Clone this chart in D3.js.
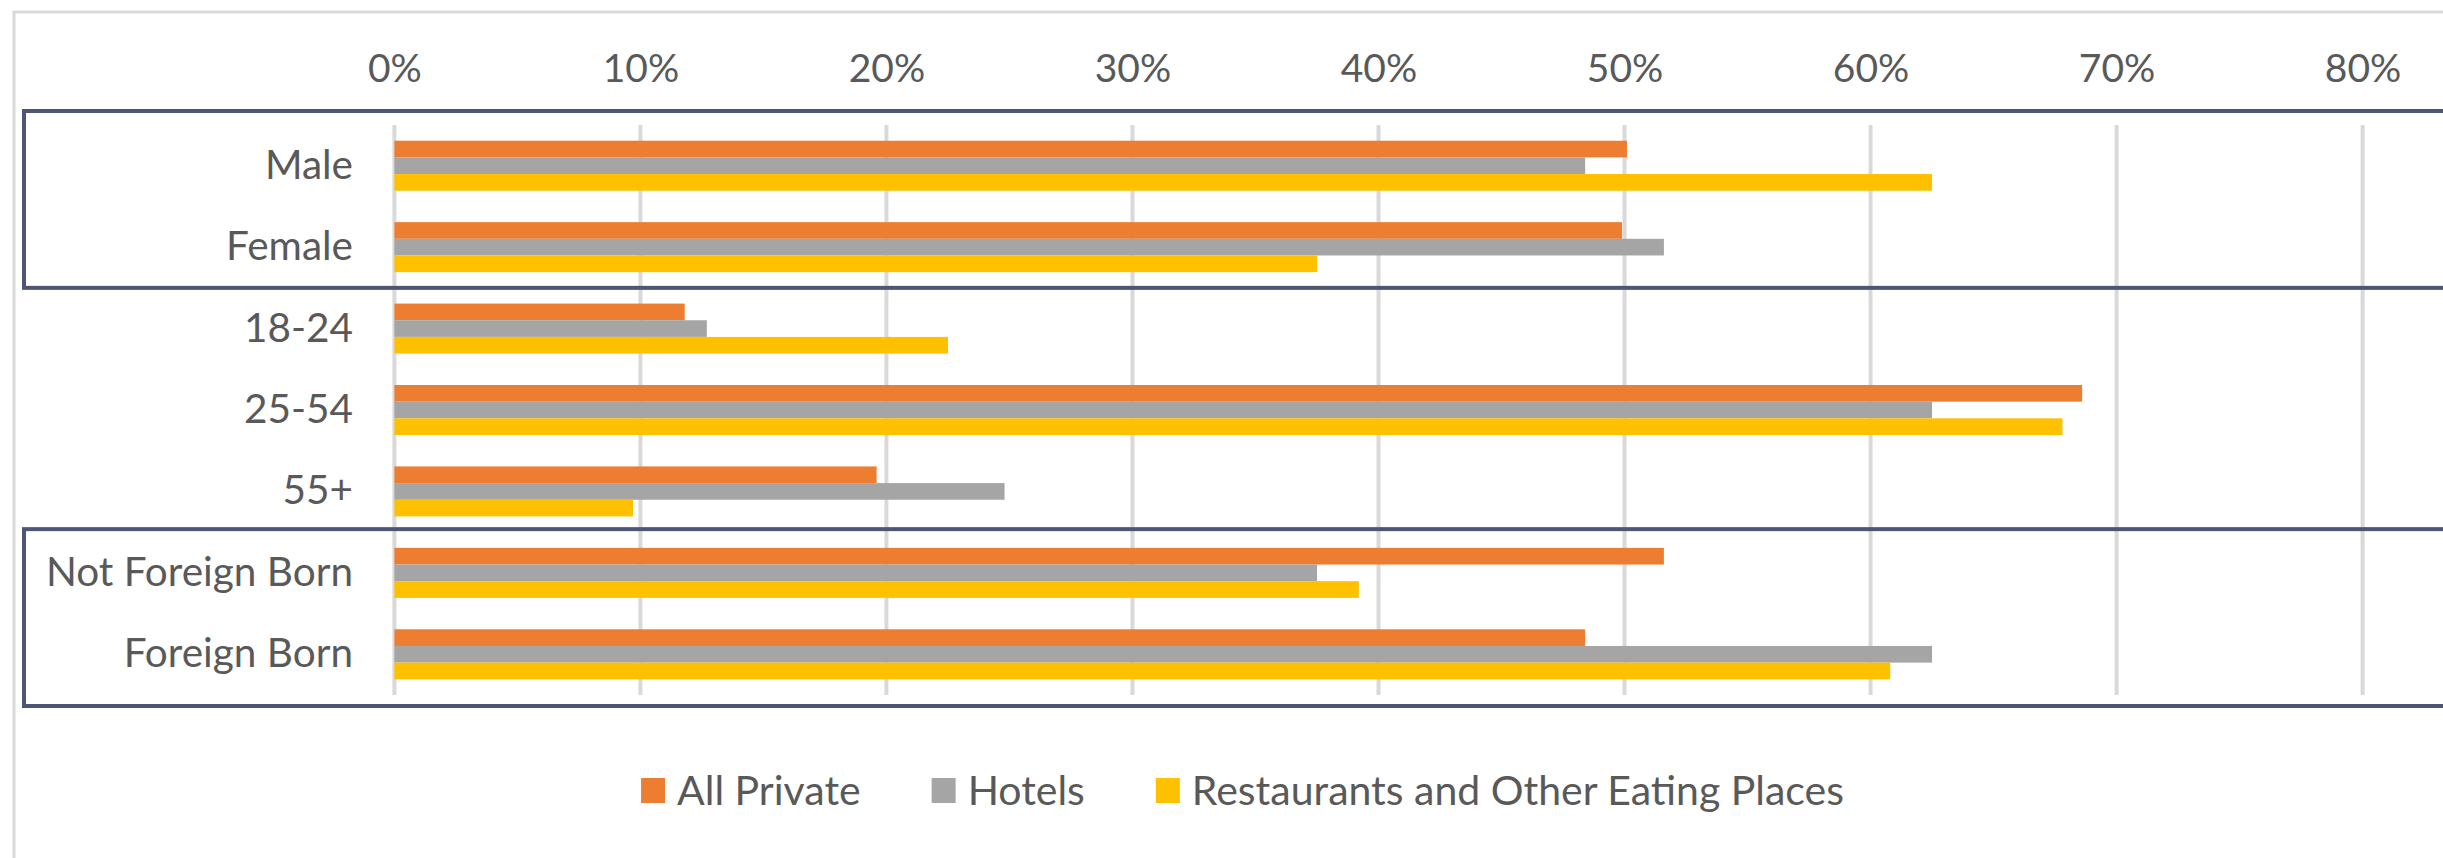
<!DOCTYPE html>
<html>
<head>
<meta charset="utf-8">
<script src="https://cdn.jsdelivr.net/npm/d3@7"></script>
<style>
  html, body { margin: 0; padding: 0; background: #fff; }
  svg { display: block; }
  text { font-family: Lato, "Open Sans", sans-serif; fill: #595959; }
</style>
</head>
<body>
<script>
// data
const categories = ['Male', 'Female', '18-24', '25-54', '55+', 'Not Foreign Born', 'Foreign Born'];
const seriesNames = ['All Private', 'Hotels', 'Restaurants and Other Eating Places'];
const allPrivate = [50.1, 49.9, 11.8, 68.6, 19.6, 51.6, 48.4];
const hotels = [48.4, 51.6, 12.7, 62.5, 24.8, 37.5, 62.5];
const restaurants = [62.5, 37.5, 22.5, 67.8, 9.7, 39.2, 60.8];
const tickValues = [0, 10, 20, 30, 40, 50, 60, 70, 80];
const boxedGroups = [['Male', 'Female'], ['Not Foreign Born', 'Foreign Born']];

const colors = ['#ED7D31', '#A5A5A5', '#FFC000'];

const width = 2443, height = 858;
const plot = { left: 394.4, right: 2362.6, top: 125, bottom: 695 };

const svg = d3.select('body').append('svg')
    .attr('width', width)
    .attr('height', height);

// chart area border (only top and left show in the picture)
svg.append('rect')
    .attr('x', 14).attr('y', 12)
    .attr('width', width + 20).attr('height', height + 20)
    .attr('fill', 'none')
    .attr('stroke', '#D9D9D9')
    .attr('stroke-width', 3);

const x = d3.scaleLinear().domain([0, 80]).range([plot.left, plot.right]);
const y = d3.scaleBand().domain(categories).range([plot.top, plot.bottom])
    .paddingInner(0.386).paddingOuter(0.193);
const ySub = d3.scaleBand().domain(seriesNames).range([0, y.bandwidth()]);

// gridlines
svg.append('g')
    .selectAll('line')
    .data(tickValues)
    .enter().append('line')
    .attr('x1', d => x(d)).attr('x2', d => x(d))
    .attr('y1', plot.top).attr('y2', plot.bottom)
    .attr('stroke', '#D9D9D9')
    .attr('stroke-width', 4);

// top axis labels
const xAxis = d3.axisTop(x)
    .tickValues(tickValues)
    .tickFormat(d => d + '%')
    .tickSize(0)
    .tickPadding(0);

svg.append('g')
    .attr('transform', 'translate(0, 68)')
    .call(xAxis)
    .call(g => g.select('.domain').remove())
    .call(g => g.selectAll('text')
        .attr('dy', '0.35em')
        .attr('font-size', 39)
        .style('font-family', 'Lato, "Open Sans", sans-serif')
        .attr('fill', '#595959'));

// category labels
const yAxis = d3.axisLeft(y).tickSize(0).tickPadding(0);
svg.append('g')
    .attr('transform', 'translate(353, 0)')
    .call(yAxis)
    .call(g => g.select('.domain').remove())
    .call(g => g.selectAll('text')
        .attr('font-size', 40.5)
        .style('font-family', 'Lato, "Open Sans", sans-serif')
        .attr('fill', '#595959'));

// bars
const rows = categories.map((c, i) => ({
    cat: c,
    vals: [allPrivate[i], hotels[i], restaurants[i]]
}));

const groups = svg.selectAll('.cat')
    .data(rows)
    .enter().append('g')
    .attr('class', 'cat')
    .attr('transform', d => 'translate(0,' + y(d.cat) + ')');

groups.selectAll('rect')
    .data(d => d.vals.map((v, j) => ({ name: seriesNames[j], value: v, j: j })))
    .enter().append('rect')
    .attr('x', x(0))
    .attr('y', d => ySub(d.name))
    .attr('width', d => x(d.value) - x(0))
    .attr('height', ySub.bandwidth())
    .attr('fill', d => colors[d.j]);

// highlight boxes round the gender and birthplace groups
const step = y.step();
const boxPad = [[14, 0], [3, 11]];
boxedGroups.forEach((grp, k) => {
    const top = y(grp[0]) - step * y.paddingOuter() - boxPad[k][0];
    const bottom = y(grp[grp.length - 1]) + y.bandwidth() + step * y.paddingOuter() + boxPad[k][1];
    svg.append('rect')
        .attr('x', 24).attr('y', top)
        .attr('width', width).attr('height', bottom - top)
        .attr('fill', 'none')
        .attr('stroke', '#4F5675')
        .attr('stroke-width', 4);
});

// legend
const legend = svg.append('g');
let lx = 0;
seriesNames.forEach((name, i) => {
    const g = legend.append('g');
    g.append('rect')
        .attr('x', 0).attr('y', -13)
        .attr('width', 24).attr('height', 25)
        .attr('fill', colors[i]);
    const t = g.append('text')
        .attr('x', 36).attr('dy', '0.35em')
        .attr('font-size', 41)
        .text(name);
    const w = 36 + t.node().getComputedTextLength();
    g.attr('transform', 'translate(' + lx + ',0)');
    lx += w + 71;
});
const legendWidth = lx - 71;
legend.attr('transform', 'translate(' + (1242.5 - legendWidth / 2) + ', 791)');
</script>
</body>
</html>
